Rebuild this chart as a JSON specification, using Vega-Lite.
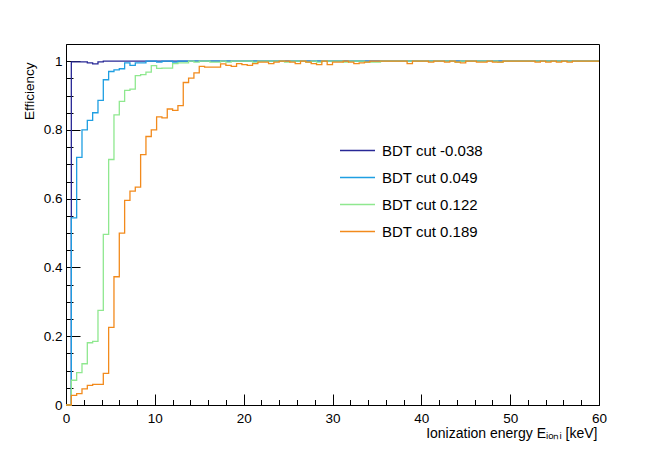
{
  "$schema": "https://vega.github.io/schema/vega-lite/v6.json",
  "width": 533,
  "height": 361,
  "autosize": {"type": "none"},
  "padding": {"left": 66, "top": 44, "right": 65, "bottom": 46},
  "background": "white",
  "datasets": {
    "cut1": [
      {"E":0,"eff":0},{"E":0.6,"eff":0.998},{"E":1.2,"eff":0.998},{"E":1.8,"eff":0.998},{"E":2.4,"eff":0.995},
      {"E":3,"eff":0.992},{"E":3.6,"eff":0.998},{"E":4.2,"eff":1},{"E":4.8,"eff":1},{"E":5.4,"eff":1},
      {"E":6,"eff":1},{"E":6.6,"eff":1},{"E":7.2,"eff":1},{"E":7.8,"eff":1},{"E":8.4,"eff":1},
      {"E":9,"eff":1},{"E":9.6,"eff":1},{"E":10.2,"eff":1},{"E":10.8,"eff":1},{"E":11.4,"eff":1},
      {"E":12,"eff":1},{"E":12.6,"eff":1},{"E":13.2,"eff":1},{"E":13.8,"eff":1},{"E":14.4,"eff":1},
      {"E":15,"eff":1},{"E":15.6,"eff":1},{"E":16.2,"eff":1},{"E":16.8,"eff":1},{"E":17.4,"eff":1},
      {"E":18,"eff":1},{"E":18.6,"eff":1},{"E":19.2,"eff":1},{"E":19.8,"eff":1},{"E":20.4,"eff":1},
      {"E":21,"eff":1},{"E":21.6,"eff":1},{"E":22.2,"eff":1},{"E":22.8,"eff":1},{"E":23.4,"eff":1},
      {"E":24,"eff":1},{"E":24.6,"eff":1},{"E":25.2,"eff":1},{"E":25.8,"eff":1},{"E":26.4,"eff":1},
      {"E":27,"eff":1},{"E":27.6,"eff":1},{"E":28.2,"eff":1},{"E":28.8,"eff":1},{"E":29.4,"eff":1},
      {"E":30,"eff":1},{"E":30.6,"eff":1},{"E":31.2,"eff":1},{"E":31.8,"eff":1},{"E":32.4,"eff":1},
      {"E":33,"eff":1},{"E":33.6,"eff":1},{"E":34.2,"eff":1},{"E":34.8,"eff":1},{"E":35.4,"eff":1},
      {"E":36,"eff":1},{"E":36.6,"eff":1},{"E":37.2,"eff":1},{"E":37.8,"eff":1},{"E":38.4,"eff":1},
      {"E":39,"eff":1},{"E":39.6,"eff":1},{"E":40.2,"eff":1},{"E":40.8,"eff":1},{"E":41.4,"eff":1},
      {"E":42,"eff":1},{"E":42.6,"eff":1},{"E":43.2,"eff":1},{"E":43.8,"eff":1},{"E":44.4,"eff":1},
      {"E":45,"eff":1},{"E":45.6,"eff":1},{"E":46.2,"eff":1},{"E":46.8,"eff":1},{"E":47.4,"eff":1},
      {"E":48,"eff":1},{"E":48.6,"eff":1},{"E":49.2,"eff":1},{"E":49.8,"eff":1},{"E":50.4,"eff":1},
      {"E":51,"eff":1},{"E":51.6,"eff":1},{"E":52.2,"eff":1},{"E":52.8,"eff":1},{"E":53.4,"eff":1},
      {"E":54,"eff":1},{"E":54.6,"eff":1},{"E":55.2,"eff":1},{"E":55.8,"eff":1},{"E":56.4,"eff":1},
      {"E":57,"eff":1},{"E":57.6,"eff":1},{"E":58.2,"eff":1},{"E":58.8,"eff":1},{"E":59.4,"eff":1},
      {"E":60,"eff":1}
    ],
    "cut2": [
      {"E":0,"eff":0},{"E":0.6,"eff":0.544},{"E":1.2,"eff":0.72},{"E":1.8,"eff":0.8},{"E":2.4,"eff":0.828},
      {"E":3,"eff":0.85},{"E":3.6,"eff":0.886},{"E":4.2,"eff":0.946},{"E":4.8,"eff":0.97},{"E":5.4,"eff":0.975},
      {"E":6,"eff":0.978},{"E":6.6,"eff":0.995},{"E":7.2,"eff":0.988},{"E":7.8,"eff":0.995},{"E":8.4,"eff":0.995},
      {"E":9,"eff":1},{"E":9.6,"eff":1},{"E":10.2,"eff":0.997},{"E":10.8,"eff":1},{"E":11.4,"eff":1},
      {"E":12,"eff":0.997},{"E":12.6,"eff":1},{"E":13.2,"eff":1},{"E":13.8,"eff":1},{"E":14.4,"eff":1},
      {"E":15,"eff":1},{"E":15.6,"eff":1},{"E":16.2,"eff":1},{"E":16.8,"eff":1},{"E":17.4,"eff":1},
      {"E":18,"eff":1},{"E":18.6,"eff":1},{"E":19.2,"eff":1},{"E":19.8,"eff":1},{"E":20.4,"eff":1},
      {"E":21,"eff":1},{"E":21.6,"eff":1},{"E":22.2,"eff":1},{"E":22.8,"eff":1},{"E":23.4,"eff":1},
      {"E":24,"eff":1},{"E":24.6,"eff":1},{"E":25.2,"eff":1},{"E":25.8,"eff":1},{"E":26.4,"eff":1},
      {"E":27,"eff":1},{"E":27.6,"eff":1},{"E":28.2,"eff":1},{"E":28.8,"eff":1},{"E":29.4,"eff":1},
      {"E":30,"eff":1},{"E":30.6,"eff":1},{"E":31.2,"eff":1},{"E":31.8,"eff":1},{"E":32.4,"eff":1},
      {"E":33,"eff":1},{"E":33.6,"eff":1},{"E":34.2,"eff":1},{"E":34.8,"eff":1},{"E":35.4,"eff":1},
      {"E":36,"eff":1},{"E":36.6,"eff":1},{"E":37.2,"eff":1},{"E":37.8,"eff":1},{"E":38.4,"eff":1},
      {"E":39,"eff":1},{"E":39.6,"eff":1},{"E":40.2,"eff":1},{"E":40.8,"eff":1},{"E":41.4,"eff":1},
      {"E":42,"eff":1},{"E":42.6,"eff":1},{"E":43.2,"eff":1},{"E":43.8,"eff":1},{"E":44.4,"eff":1},
      {"E":45,"eff":1},{"E":45.6,"eff":1},{"E":46.2,"eff":1},{"E":46.8,"eff":1},{"E":47.4,"eff":1},
      {"E":48,"eff":1},{"E":48.6,"eff":1},{"E":49.2,"eff":1},{"E":49.8,"eff":1},{"E":50.4,"eff":1},
      {"E":51,"eff":1},{"E":51.6,"eff":1},{"E":52.2,"eff":1},{"E":52.8,"eff":1},{"E":53.4,"eff":1},
      {"E":54,"eff":1},{"E":54.6,"eff":1},{"E":55.2,"eff":1},{"E":55.8,"eff":1},{"E":56.4,"eff":1},
      {"E":57,"eff":1},{"E":57.6,"eff":1},{"E":58.2,"eff":1},{"E":58.8,"eff":1},{"E":59.4,"eff":1},
      {"E":60,"eff":1}
    ],
    "cut3": [
      {"E":0,"eff":0},{"E":0.6,"eff":0.072},{"E":1.2,"eff":0.094},{"E":1.8,"eff":0.12},{"E":2.4,"eff":0.181},
      {"E":3,"eff":0.185},{"E":3.6,"eff":0.275},{"E":4.2,"eff":0.496},{"E":4.8,"eff":0.714},{"E":5.4,"eff":0.844},
      {"E":6,"eff":0.883},{"E":6.6,"eff":0.915},{"E":7.2,"eff":0.919},{"E":7.8,"eff":0.958},{"E":8.4,"eff":0.961},
      {"E":9,"eff":0.968},{"E":9.6,"eff":0.987},{"E":10.2,"eff":0.979},{"E":10.8,"eff":0.98},{"E":11.4,"eff":0.98},
      {"E":12,"eff":0.993},{"E":12.6,"eff":0.995},{"E":13.2,"eff":0.995},{"E":13.8,"eff":1},{"E":14.4,"eff":0.997},
      {"E":15,"eff":1},{"E":15.6,"eff":1},{"E":16.2,"eff":0.997},{"E":16.8,"eff":0.997},{"E":17.4,"eff":1},
      {"E":18,"eff":0.997},{"E":18.6,"eff":1},{"E":19.2,"eff":1},{"E":19.8,"eff":1},{"E":20.4,"eff":1},
      {"E":21,"eff":0.997},{"E":21.6,"eff":1},{"E":22.2,"eff":1},{"E":22.8,"eff":1},{"E":23.4,"eff":1},
      {"E":24,"eff":1},{"E":24.6,"eff":0.997},{"E":25.2,"eff":1},{"E":25.8,"eff":1},{"E":26.4,"eff":1},
      {"E":27,"eff":0.997},{"E":27.6,"eff":1},{"E":28.2,"eff":0.997},{"E":28.8,"eff":1},{"E":29.4,"eff":1},
      {"E":30,"eff":1},{"E":30.6,"eff":1},{"E":31.2,"eff":0.997},{"E":31.8,"eff":1},{"E":32.4,"eff":1},
      {"E":33,"eff":1},{"E":33.6,"eff":0.997},{"E":34.2,"eff":0.997},{"E":34.8,"eff":0.997},{"E":35.4,"eff":1},
      {"E":36,"eff":1},{"E":36.6,"eff":1},{"E":37.2,"eff":1},{"E":37.8,"eff":1},{"E":38.4,"eff":1},
      {"E":39,"eff":1},{"E":39.6,"eff":1},{"E":40.2,"eff":1},{"E":40.8,"eff":1},{"E":41.4,"eff":1},
      {"E":42,"eff":1},{"E":42.6,"eff":1},{"E":43.2,"eff":1},{"E":43.8,"eff":0.997},{"E":44.4,"eff":1},
      {"E":45,"eff":1},{"E":45.6,"eff":1},{"E":46.2,"eff":1},{"E":46.8,"eff":1},{"E":47.4,"eff":1},
      {"E":48,"eff":1},{"E":48.6,"eff":0.997},{"E":49.2,"eff":1},{"E":49.8,"eff":1},{"E":50.4,"eff":1},
      {"E":51,"eff":1},{"E":51.6,"eff":1},{"E":52.2,"eff":1},{"E":52.8,"eff":1},{"E":53.4,"eff":1},
      {"E":54,"eff":1},{"E":54.6,"eff":1},{"E":55.2,"eff":1},{"E":55.8,"eff":1},{"E":56.4,"eff":1},
      {"E":57,"eff":1},{"E":57.6,"eff":1},{"E":58.2,"eff":1},{"E":58.8,"eff":1},{"E":59.4,"eff":1},
      {"E":60,"eff":1}
    ],
    "cut4": [
      {"E":0,"eff":0},{"E":0.6,"eff":0.028},{"E":1.2,"eff":0.033},{"E":1.8,"eff":0.047},{"E":2.4,"eff":0.057},
      {"E":3,"eff":0.06},{"E":3.6,"eff":0.06},{"E":4.2,"eff":0.092},{"E":4.8,"eff":0.226},{"E":5.4,"eff":0.373},
      {"E":6,"eff":0.5},{"E":6.6,"eff":0.595},{"E":7.2,"eff":0.622},{"E":7.8,"eff":0.634},{"E":8.4,"eff":0.728},
      {"E":9,"eff":0.781},{"E":9.6,"eff":0.8},{"E":10.2,"eff":0.838},{"E":10.8,"eff":0.835},{"E":11.4,"eff":0.861},
      {"E":12,"eff":0.857},{"E":12.6,"eff":0.871},{"E":13.2,"eff":0.938},{"E":13.8,"eff":0.951},{"E":14.4,"eff":0.966},
      {"E":15,"eff":0.985},{"E":15.6,"eff":0.983},{"E":16.2,"eff":0.983},{"E":16.8,"eff":0.983},{"E":17.4,"eff":0.992},
      {"E":18,"eff":0.988},{"E":18.6,"eff":0.985},{"E":19.2,"eff":0.993},{"E":19.8,"eff":0.99},{"E":20.4,"eff":0.988},
      {"E":21,"eff":0.993},{"E":21.6,"eff":0.997},{"E":22.2,"eff":0.997},{"E":22.8,"eff":0.993},{"E":23.4,"eff":0.997},
      {"E":24,"eff":1},{"E":24.6,"eff":1},{"E":25.2,"eff":0.997},{"E":25.8,"eff":0.993},{"E":26.4,"eff":1},
      {"E":27,"eff":0.997},{"E":27.6,"eff":0.993},{"E":28.2,"eff":0.99},{"E":28.8,"eff":1},{"E":29.4,"eff":0.99},
      {"E":30,"eff":0.997},{"E":30.6,"eff":0.997},{"E":31.2,"eff":1},{"E":31.8,"eff":0.997},{"E":32.4,"eff":0.993},
      {"E":33,"eff":0.995},{"E":33.6,"eff":0.997},{"E":34.2,"eff":1},{"E":34.8,"eff":1},{"E":35.4,"eff":1},
      {"E":36,"eff":1},{"E":36.6,"eff":1},{"E":37.2,"eff":1},{"E":37.8,"eff":1},{"E":38.4,"eff":0.993},
      {"E":39,"eff":1},{"E":39.6,"eff":1},{"E":40.2,"eff":1},{"E":40.8,"eff":0.997},{"E":41.4,"eff":1},
      {"E":42,"eff":1},{"E":42.6,"eff":0.997},{"E":43.2,"eff":1},{"E":43.8,"eff":0.997},{"E":44.4,"eff":0.995},
      {"E":45,"eff":1},{"E":45.6,"eff":1},{"E":46.2,"eff":0.997},{"E":46.8,"eff":0.997},{"E":47.4,"eff":1},
      {"E":48,"eff":0.997},{"E":48.6,"eff":0.997},{"E":49.2,"eff":1},{"E":49.8,"eff":1},{"E":50.4,"eff":1},
      {"E":51,"eff":1},{"E":51.6,"eff":1},{"E":52.2,"eff":1},{"E":52.8,"eff":0.997},{"E":53.4,"eff":1},
      {"E":54,"eff":0.997},{"E":54.6,"eff":1},{"E":55.2,"eff":0.997},{"E":55.8,"eff":1},{"E":56.4,"eff":0.997},
      {"E":57,"eff":1},{"E":57.6,"eff":1},{"E":58.2,"eff":1},{"E":58.8,"eff":1},{"E":59.4,"eff":1},
      {"E":60,"eff":1}
    ]
  },
  "layer": [
    {
      "data": {"name": "cut1"},
      "mark": {"type": "line", "interpolate": "step-after", "strokeWidth": 1.3},
      "encoding": {
        "x": {
          "field": "E", "type": "quantitative",
          "scale": {"domain": [0, 60], "nice": false, "zero": false},
          "axis": {
            "orient": "bottom",
            "values": [0, 10, 20, 30, 40, 50, 60],
            "tickSize": -11,
            "labelPadding": 17,
            "labelFlush": false,
            "title": "Ionization energy Eᵢₒₙᵢ [keV]",
            "titleFontSize": 14,
            "titleAnchor": "end",
            "titleAlign": "right",
            "titleBaseline": "alphabetic",
            "titleX": 531,
            "titleY": 32
          }
        },
        "y": {
          "field": "eff", "type": "quantitative",
          "scale": {"domain": [0, 1.05], "nice": false, "zero": false},
          "axis": {
            "orient": "left",
            "values": [0, 0.2, 0.4, 0.6, 0.8, 1],
            "format": "~g",
            "tickSize": -14,
            "labelPadding": 18,
            "title": "Efficiency",
            "titleAngle": -90,
            "titleAlign": "right",
            "titleBaseline": "alphabetic",
            "titleX": -33,
            "titleY": 18
          }
        },
        "color": {
          "datum": "BDT cut -0.038", "type": "nominal",
          "scale": {
            "domain": ["BDT cut -0.038", "BDT cut 0.049", "BDT cut 0.122", "BDT cut 0.189"],
            "range": ["#282896", "#1f9fe2", "#8fe88f", "#f28a1c"]
          },
          "legend": {
            "title": null,
            "orient": "none",
            "legendX": 273,
            "legendY": 88,
            "symbolType": "stroke",
            "symbolSize": 1225,
            "symbolStrokeWidth": 1.5,
            "labelFontSize": 15,
            "labelOffset": 6,
            "rowPadding": -6,
            "padding": 0
          }
        }
      }
    },
    {
      "data": {"name": "cut2"},
      "mark": {"type": "line", "interpolate": "step-after", "strokeWidth": 1.3},
      "encoding": {
        "x": {
          "field": "E", "type": "quantitative",
          "axis": {
            "orient": "bottom",
            "values": [2, 4, 6, 8, 12, 14, 16, 18, 22, 24, 26, 28, 32, 34, 36, 38, 42, 44, 46, 48, 52, 54, 56, 58],
            "tickSize": -5.5,
            "labels": false,
            "domain": false,
            "title": null
          }
        },
        "y": {
          "field": "eff", "type": "quantitative",
          "axis": {
            "orient": "left",
            "values": [0.05, 0.1, 0.15, 0.25, 0.3, 0.35, 0.45, 0.5, 0.55, 0.65, 0.7, 0.75, 0.85, 0.9, 0.95],
            "tickSize": -7,
            "labels": false,
            "domain": false,
            "title": null
          }
        },
        "color": {"datum": "BDT cut 0.049", "type": "nominal"}
      }
    },
    {
      "data": {"name": "cut3"},
      "mark": {"type": "line", "interpolate": "step-after", "strokeWidth": 1.3},
      "encoding": {
        "x": {"field": "E", "type": "quantitative", "axis": null},
        "y": {"field": "eff", "type": "quantitative", "axis": null},
        "color": {"datum": "BDT cut 0.122", "type": "nominal"}
      }
    },
    {
      "data": {"name": "cut4"},
      "mark": {"type": "line", "interpolate": "step-after", "strokeWidth": 1.3},
      "encoding": {
        "x": {"field": "E", "type": "quantitative", "axis": null},
        "y": {"field": "eff", "type": "quantitative", "axis": null},
        "color": {"datum": "BDT cut 0.189", "type": "nominal"}
      }
    }
  ],
  "resolve": {"axis": {"x": "independent", "y": "independent"}},
  "config": {
    "font": "Liberation Sans",
    "view": {"stroke": "#000", "strokeWidth": 1},
    "axis": {
      "grid": false,
      "domainColor": "#000",
      "tickColor": "#000",
      "labelColor": "#000",
      "titleColor": "#000",
      "labelFont": "Liberation Sans",
      "titleFont": "Liberation Sans",
      "labelFontSize": 13.5,
      "titleFontSize": 13.5,
      "titleFontWeight": "normal"
    },
    "legend": {"labelFont": "Liberation Sans", "labelColor": "#000"}
  }
}
